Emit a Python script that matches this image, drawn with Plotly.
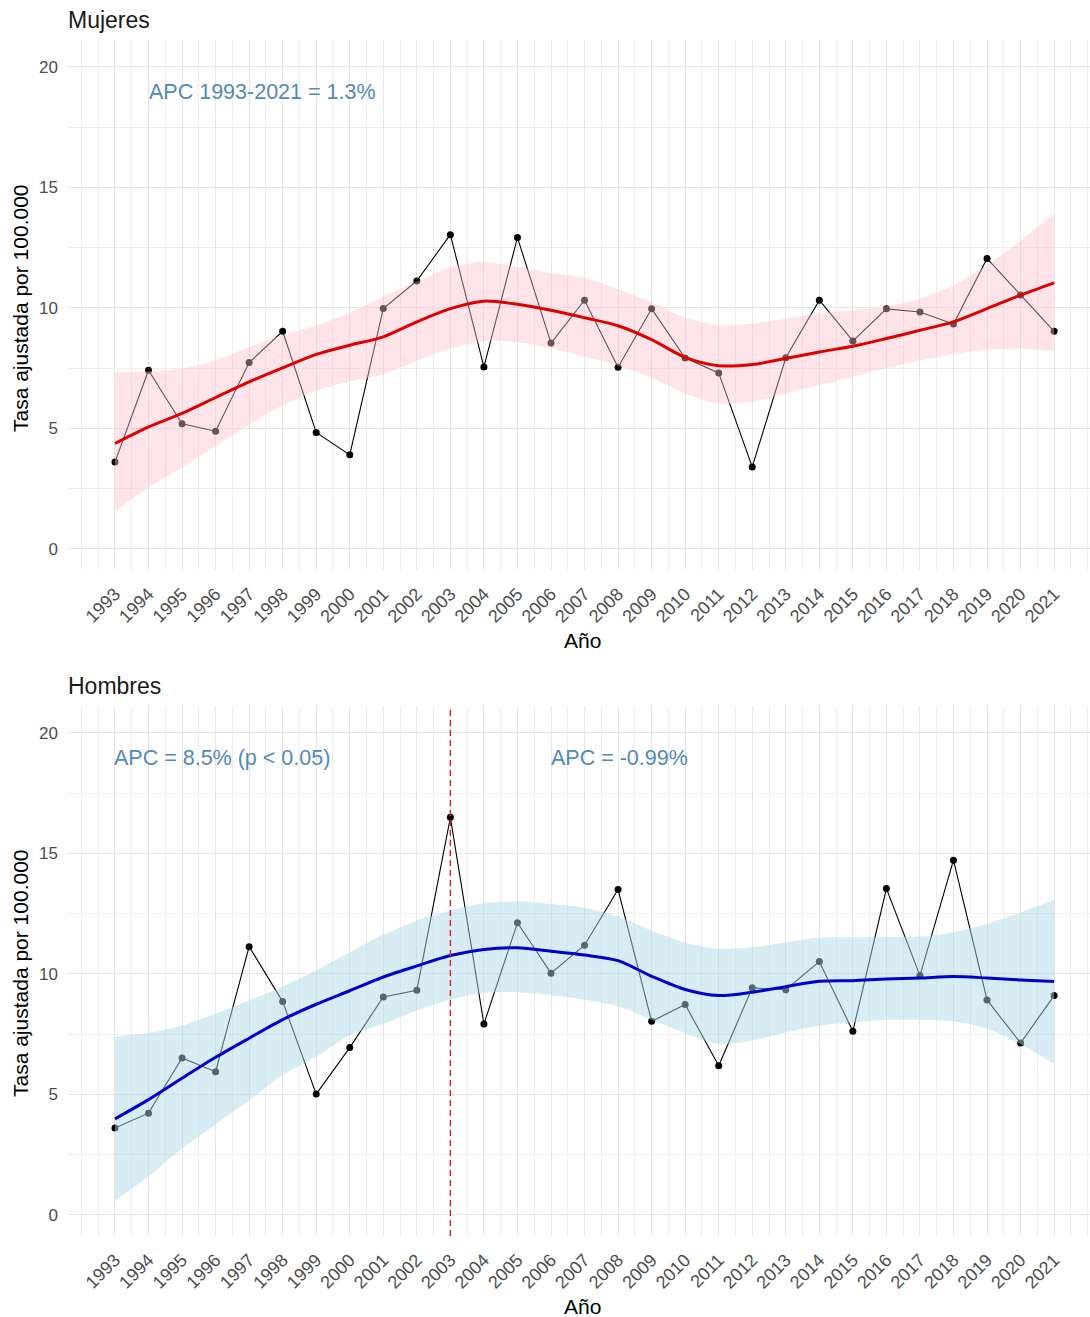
import plotly.graph_objects as go

W, H = 1090, 1317

years = list(range(1993, 2022))
year_labels = [str(y) for y in years]

# Mujeres: observed adjusted rate, smoothed trend and confidence band
mujeres_tasa = [3.6, 7.41, 5.19, 4.88, 7.73, 9.03, 4.83, 3.9, 9.97, 11.12,
                13.04, 7.55, 12.92, 8.54, 10.32, 7.54, 9.96, 7.92, 7.3, 3.4,
                7.93, 10.32, 8.63, 9.96, 9.83, 9.33, 12.05, 10.53, 9.03]
mujeres_ajuste = [4.37, 5.06, 5.62, 6.28, 6.93, 7.51, 8.07, 8.45, 8.8, 9.42,
                  9.97, 10.28, 10.15, 9.9, 9.59, 9.26, 8.68, 7.95, 7.6, 7.65,
                  7.9, 8.17, 8.41, 8.73, 9.07, 9.42, 9.97, 10.53, 11.04]
mujeres_sup = [7.34, 7.36, 7.49, 7.83, 8.38, 8.87, 9.28, 9.8, 10.46, 11.08,
               11.7, 11.91, 11.7, 11.45, 11.25, 10.78, 10.22, 9.6, 9.28, 9.35,
               9.56, 9.77, 9.9, 10.07, 10.39, 10.94, 11.77, 12.8, 13.92]
mujeres_inf = [1.54, 2.54, 3.37, 4.25, 5.15, 5.95, 6.55, 6.95, 7.25, 7.8,
               8.3, 8.62, 8.57, 8.32, 7.97, 7.6, 7.1, 6.45, 6.03, 6.1,
               6.45, 6.79, 7.14, 7.5, 7.82, 8.08, 8.25, 8.3, 8.2]

# Hombres: observed adjusted rate, smoothed trend and confidence band
hombres_tasa = [3.6, 4.22, 6.51, 5.94, 11.13, 8.85, 5.01, 6.94, 9.04, 9.32,
                16.5, 7.92, 12.12, 10.03, 11.19, 13.5, 8.03, 8.73, 6.19, 9.42,
                9.34, 10.51, 7.62, 13.54, 9.93, 14.72, 8.92, 7.13, 9.1]
hombres_ajuste = [3.98, 4.78, 5.67, 6.54, 7.33, 8.1, 8.74, 9.3, 9.87, 10.33,
                  10.76, 11.01, 11.08, 10.94, 10.78, 10.55, 9.9, 9.35, 9.1, 9.24,
                  9.47, 9.69, 9.72, 9.79, 9.83, 9.89, 9.83, 9.75, 9.68]
hombres_sup = [7.4, 7.55, 7.85, 8.35, 8.9, 9.47, 10.14, 10.9, 11.62, 12.21,
               12.63, 12.93, 13.0, 12.9, 12.75, 12.38, 11.8, 11.3, 11.04, 11.11,
               11.31, 11.5, 11.52, 11.53, 11.55, 11.73, 12.08, 12.56, 13.07]
hombres_inf = [0.58, 1.6, 2.75, 3.75, 4.75, 5.8, 6.55, 7.45, 7.92, 8.48,
               8.93, 9.22, 9.24, 9.12, 8.93, 8.66, 8.1, 7.55, 7.09, 7.23,
               7.57, 7.85, 7.99, 8.09, 8.09, 8.03, 7.72, 7.09, 6.26]

apc_mujeres = "APC 1993-2021 = 1.3%"
apc_hombres_1 = "APC = 8.5% (p < 0.05)"
apc_hombres_2 = "APC = -0.99%"
punto_corte = 2003

FONT = "Liberation Sans, Arial, sans-serif"
GRID_MAJOR = "#E6E6E6"
GRID_MINOR = "#EEEEEE"
TICK_COL = "#4D4D4D"
APC_COL = "#5089BA"

fig = go.Figure()


def add_panel(xa, ya, tasa, ajuste, sup, inf, fill, line_col):
    # observed series (drawn first so the band tints the points it covers)
    fig.add_trace(go.Scatter(
        x=years, y=tasa, mode="lines+markers", xaxis=xa, yaxis=ya,
        line=dict(color="black", width=1.1),
        marker=dict(color="black", size=7), showlegend=False))
    # confidence band
    fig.add_trace(go.Scatter(
        x=years, y=sup, mode="lines", xaxis=xa, yaxis=ya,
        line=dict(width=0, shape="spline", smoothing=0.8),
        showlegend=False, hoverinfo="skip"))
    fig.add_trace(go.Scatter(
        x=years, y=inf, mode="lines", xaxis=xa, yaxis=ya,
        line=dict(width=0, shape="spline", smoothing=0.8),
        fill="tonexty", fillcolor=fill, showlegend=False, hoverinfo="skip"))
    # smoothed trend
    fig.add_trace(go.Scatter(
        x=years, y=ajuste, mode="lines", xaxis=xa, yaxis=ya,
        line=dict(color=line_col, width=3, shape="spline", smoothing=0.8),
        showlegend=False))


add_panel("x", "y", mujeres_tasa, mujeres_ajuste, mujeres_sup, mujeres_inf,
          "rgba(255,192,203,0.42)", "#E00000")
add_panel("x2", "y2", hombres_tasa, hombres_ajuste, hombres_sup, hombres_inf,
          "rgba(173,216,230,0.48)", "#0000D0")


def px_x(p):
    return p / W


def px_y(p):
    return 1 - p / H


x_common = dict(
    domain=[px_x(67), 1], range=[1991.57, 2022.07],
    tickmode="array", tickvals=years, ticktext=year_labels, tickangle=-45,
    tickfont=dict(family=FONT, size=18, color=TICK_COL),
    showgrid=True, gridcolor=GRID_MAJOR, gridwidth=1.2,
    minor=dict(tick0=1992, dtick=0.5, showgrid=True,
               gridcolor=GRID_MINOR, gridwidth=0.8),
    zeroline=False, showline=False, ticks="", automargin=False,
    ticklabelstandoff=9, fixedrange=True)

y_common = dict(
    range=[-0.88, 21.12], tickmode="array", tickvals=[0, 5, 10, 15, 20],
    tickfont=dict(family=FONT, size=17, color=TICK_COL),
    showgrid=True, gridcolor=GRID_MAJOR, gridwidth=1.2,
    minor=dict(tick0=0, dtick=2.5, showgrid=True,
               gridcolor=GRID_MINOR, gridwidth=0.8),
    zeroline=False, showline=False, ticks="", automargin=False,
    ticklabelstandoff=8, fixedrange=True)

fig.update_layout(
    width=W, height=H, margin=dict(l=0, r=0, t=0, b=0),
    paper_bgcolor="white", plot_bgcolor="white",
    font=dict(family=FONT),
    xaxis=dict(anchor="y", **x_common),
    yaxis=dict(anchor="x", domain=[px_y(570), px_y(40)], **y_common),
    xaxis2=dict(anchor="y2", **x_common),
    yaxis2=dict(anchor="x2", domain=[px_y(1236), px_y(706)], **y_common),
    showlegend=False,
)

# change point in the men's series
fig.add_shape(type="line", xref="x2", yref="y2 domain",
              x0=punto_corte, x1=punto_corte, y0=0, y1=1,
              line=dict(color="#D42020", width=1.4, dash="6px,4px"))

annotations = []
# panel titles
for txt, ypx in (("Mujeres", 20), ("Hombres", 686)):
    annotations.append(dict(text=txt, xref="paper", yref="paper",
                            x=px_x(66), y=px_y(ypx), xanchor="left",
                            yanchor="middle", showarrow=False,
                            font=dict(family=FONT, size=23, color="#1A1A1A")))
# axis titles
for ypx in (308, 973):
    annotations.append(dict(text="Tasa ajustada por 100.000", xref="paper",
                            yref="paper", x=px_x(20), y=px_y(ypx),
                            xanchor="center", yanchor="middle", textangle=-90,
                            showarrow=False,
                            font=dict(family=FONT, size=21, color="black")))
for ypx in (641, 1306):
    annotations.append(dict(text="Año", xref="paper", yref="paper",
                            x=px_x(582), y=px_y(ypx), xanchor="center",
                            yanchor="middle", showarrow=False,
                            font=dict(family=FONT, size=21, color="black")))
# APC labels
for txt, xa, ya, xv in ((apc_mujeres, "x", "y", 1997.4),
                        (apc_hombres_1, "x2", "y2", 1996.2),
                        (apc_hombres_2, "x2", "y2", 2008.05)):
    annotations.append(dict(text=txt, xref=xa, yref=ya, x=xv, y=18.95,
                            xanchor="center", yanchor="middle",
                            showarrow=False,
                            font=dict(family=FONT, size=21.5, color=APC_COL)))

fig.update_layout(annotations=annotations)

fig.write_html("out.html")
